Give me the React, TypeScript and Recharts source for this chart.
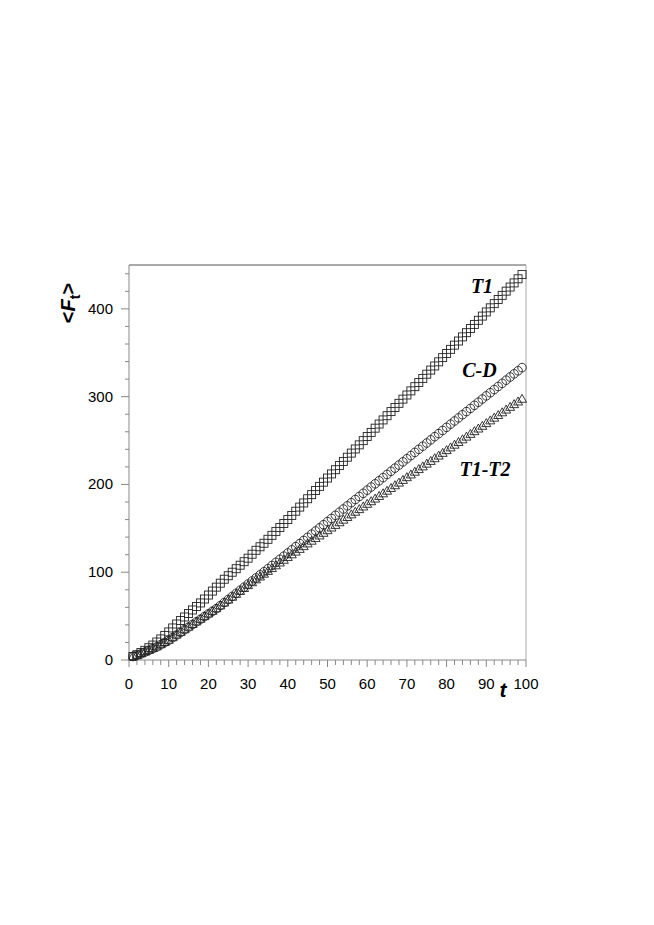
import { LineChart, Line, XAxis, YAxis, ReferenceLine } from "recharts";

// mean value <F_t>, t = 1..99
const t1Values = [
  4, 6, 8.5, 11, 14, 17, 20.5, 24, 28, 32,
  36.5, 41, 45, 49, 53, 57, 61, 65, 69.5, 74,
  78.5, 83, 87.5, 92, 96, 100, 104, 108, 112, 116,
  120.5, 125, 129, 133, 137.5, 142, 146.5, 151, 155.5, 160,
  164.7, 169.5, 174.2, 178.9, 183.7, 188.4, 193.1, 197.8, 202.6, 207.3,
  212.0, 216.8, 221.5, 226.2, 231.0, 235.7, 240.4, 245.1, 249.9, 254.6,
  259.3, 264.1, 268.8, 273.5, 278.3, 283.0, 287.7, 292.4, 297.2, 301.9,
  306.6, 311.4, 316.1, 320.8, 325.6, 330.3, 335.0, 339.7, 344.5, 349.2,
  353.9, 358.7, 363.4, 368.1, 372.9, 377.6, 382.3, 387.0, 391.8, 396.5,
  401.2, 406.0, 410.7, 415.4, 420.2, 424.9, 429.6, 434.3, 439.1,
];

const cdValues = [
  4, 5.5, 7, 9, 11, 13, 15, 17.5, 20, 22.5,
  25.5, 28.5, 31.5, 34.5, 37.5, 40.5, 43.5, 46.5, 49.5, 52.5,
  55.5, 58.5, 62, 65.5, 69, 72.5, 76, 79.5, 83, 86.5,
  90, 93.5, 97, 100.5, 104, 107.6, 111.2, 114.7, 118.3, 121.9,
  125.5, 129.1, 132.6, 136.2, 139.8, 143.4, 147.0, 150.5, 154.1, 157.7,
  161.3, 164.9, 168.4, 172.0, 175.6, 179.2, 182.8, 186.3, 189.9, 193.5,
  197.1, 200.7, 204.2, 207.8, 211.4, 215.0, 218.6, 222.1, 225.7, 229.3,
  232.9, 236.5, 240.0, 243.6, 247.2, 250.8, 254.4, 257.9, 261.5, 265.1,
  268.7, 272.3, 275.8, 279.4, 283.0, 286.6, 290.2, 293.7, 297.3, 300.9,
  304.5, 308.1, 311.6, 315.2, 318.8, 322.4, 326.0, 329.5, 333.1,
];

const t1t2Values = [
  4.5, 6, 7.5, 9.5, 11.5, 13.5, 15.5, 18, 20.5, 23,
  26, 29, 32, 35, 38, 41, 44, 47, 50, 53,
  56, 59, 62.2, 65.5, 68.8, 72.1, 75.4, 78.7, 82, 85.3,
  88.6, 91.9, 95.1, 98.3, 101.5, 104.7, 107.9, 111.1, 114.2, 117.3,
  120.4, 123.5, 126.6, 129.7, 132.8, 135.9, 138.9, 141.9, 144.9, 147.9,
  150.9, 153.9, 156.9, 159.9, 162.9, 165.9, 168.9, 171.9, 174.9, 177.9,
  180.9, 183.9, 186.9, 189.9, 192.9, 196.0, 199.1, 202.1, 205.2, 208.3,
  211.4, 214.5, 217.5, 220.6, 223.7, 226.8, 229.9, 232.9, 236.0, 239.1,
  242.2, 245.3, 248.3, 251.4, 254.5, 257.6, 260.7, 263.7, 266.8, 269.9,
  273.0, 276.1, 279.1, 282.2, 285.3, 288.4, 291.5, 294.5, 297.6,
];

const xTicks = [
  0, 2, 4, 6, 8, 10, 12, 14, 16, 18, 20, 22, 24, 26, 28, 30, 32, 34, 36, 38,
  40, 42, 44, 46, 48, 50, 52, 54, 56, 58, 60, 62, 64, 66, 68, 70, 72, 74, 76,
  78, 80, 82, 84, 86, 88, 90, 92, 94, 96, 98, 100,
];
const yTicks = [
  0, 20, 40, 60, 80, 100, 120, 140, 160, 180, 200, 220, 240, 260, 280, 300,
  320, 340, 360, 380, 400, 420, 440,
];

const data = t1Values.map((v, i) => ({
  t: i + 1,
  t1: v,
  cd: cdValues[i],
  t1t2: t1t2Values[i],
}));

const AXIS = "#888";
const MARK = "#222";
const SANS = "'Liberation Sans', Arial, sans-serif";
const SERIF = "'Liberation Serif', 'Times New Roman', serif";

const XTick = ({ x, y, payload }: any) => {
  const major = payload.value % 10 === 0;
  return (
    <g>
      <line x1={x} x2={x} y1={y} y2={y + (major ? 7 : 5)} stroke={AXIS} />
      {major && (
        <text x={x} y={y + 29} textAnchor="middle" fontSize={15} fontFamily={SANS} fill="#000">
          {payload.value}
        </text>
      )}
    </g>
  );
};

const YTick = ({ x, y, payload }: any) => {
  const major = payload.value % 100 === 0;
  return (
    <g>
      <line x1={x - (major ? 8 : 4)} x2={x} y1={y} y2={y} stroke={AXIS} />
      {major && (
        <text x={x - 16} y={y + 5} textAnchor="end" fontSize={15} fontFamily={SANS} fill="#000">
          {payload.value}
        </text>
      )}
    </g>
  );
};

const squareDot = (p: any) => (
  <rect key={`sq${p.index}`} x={p.cx - 4} y={p.cy - 4} width={8} height={8}
    fill="none" stroke={MARK} strokeWidth={0.9} />
);
const circleDot = (p: any) => (
  <circle key={`ci${p.index}`} cx={p.cx} cy={p.cy} r={4.3}
    fill="none" stroke={MARK} strokeWidth={0.9} />
);
const triangleDot = (p: any) => (
  <path key={`tr${p.index}`}
    d={`M${p.cx},${p.cy - 4.5} L${p.cx + 4.5},${p.cy + 3.5} L${p.cx - 4.5},${p.cy + 3.5} Z`}
    fill="none" stroke={MARK} strokeWidth={0.9} />
);

export default function App() {
  return (
    <div style={{ position: "relative", width: 638, height: 760 }}>
      <LineChart
        width={638}
        height={760}
        data={data}
        margin={{ top: 257, right: 120, bottom: 68, left: 61 }}
      >
        <XAxis
          dataKey="t"
          type="number"
          domain={[0, 100]}
          ticks={xTicks}
          interval={0}
          height={40}
          tickSize={0}
          tickMargin={0}
          tickLine={false}
          axisLine={{ stroke: AXIS }}
          tick={XTick}
        />
        <YAxis
          type="number"
          domain={[0, 450]}
          ticks={yTicks}
          interval={0}
          width={60}
          tickSize={0}
          tickMargin={0}
          tickLine={false}
          axisLine={{ stroke: AXIS }}
          tick={YTick}
        />
        <ReferenceLine y={450} stroke="#555" />
        <ReferenceLine x={100} stroke="#aaa" />
        <Line dataKey="t1" stroke="none" dot={squareDot} activeDot={false} isAnimationActive={false} />
        <Line dataKey="cd" stroke="none" dot={circleDot} activeDot={false} isAnimationActive={false} />
        <Line dataKey="t1t2" stroke="none" dot={triangleDot} activeDot={false} isAnimationActive={false} />
      </LineChart>
      <svg
        width={638}
        height={760}
        style={{ position: "absolute", left: 0, top: 0, pointerEvents: "none" }}
      >
        <g fontFamily={SERIF} fontWeight="bold" fontStyle="italic" fontSize={20} fill="#000" textAnchor="middle">
          <text x={474} y={285}>T1</text>
          <text x={471.5} y={369}>C-D</text>
          <text x={477} y={468}>T1-T2</text>
        </g>
        <text x={495} y={689} fontFamily={SANS} fontWeight="bold" fontStyle="italic" fontSize={21} textAnchor="middle">
          t
        </text>
        <text
          transform="translate(67,295) rotate(-90)"
          fontFamily={SANS}
          fontWeight="bold"
          fontSize={20}
          textAnchor="middle"
        >
          &lt;<tspan fontStyle="italic">F</tspan>
          <tspan dy={5} fontSize={14}>t</tspan>
          <tspan dy={-5}>&gt;</tspan>
        </text>
      </svg>
    </div>
  );
}
